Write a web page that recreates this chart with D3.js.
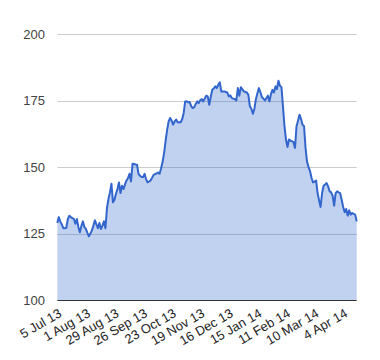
<!DOCTYPE html>
<html>
<head>
<meta charset="utf-8">
<script src="https://cdn.jsdelivr.net/npm/d3@7"></script>
<style>
html,body{margin:0;padding:0;background:#fff;}
svg{display:block;font-family:"Liberation Sans",Arial,sans-serif;}
</style>
</head>
<body>
<svg id="chart" width="380" height="360"></svg>
<script>
const tickLabels = ["5 Jul 13","1 Aug 13","29 Aug 13","26 Sep 13","23 Oct 13","19 Nov 13","16 Dec 13","15 Jan 14","11 Feb 14","10 Mar 14","4 Apr 14"];
const tickStep = 19;
const yTicks = [100,125,150,175,200];
const values = [
129,131.2,129.5,128.5,127,127,127.2,130.5,131.7,131.2,
130.8,130.5,128.7,130.5,127.5,125.5,127.8,129.6,127.5,126.8,
125.3,124,125,126.2,128,130,128.5,127,129,126.7,
128,129.6,127,134.6,138,140.5,143.75,136.75,137.75,140,
141.75,144.25,140.25,143,141.75,143.5,145,145.9,147.5,144.6,
151.25,151.2,151,150.9,147.5,146.75,146.3,146.25,147.5,145.5,
144.25,144.6,145,146,147.1,147.4,147.6,148,147.5,149.6,
152,155.4,160,164,167.25,168.5,167.5,166,167.2,167.9,
166.9,166.9,166.9,168,170.4,174.75,174.8,174.4,174.5,173,
172.25,172.6,173.8,174.75,174.1,175.2,175.6,174.75,175.8,176.9,
176.6,173.5,176.5,179.1,179.6,180.4,179.75,181,181.9,178.5,
178.5,178.5,178.3,178.1,176.6,177,176,175.8,175.6,175.1,
179.75,176.9,180.1,179.3,178.5,178.3,178.1,177.2,172.9,172,
170.1,171.9,175.6,177.8,179.75,178.2,176.4,175.8,175.1,176,
176.9,174.75,177.5,179.1,178.1,180.4,179.4,182.5,180.6,180.1,
172.9,165.4,160.4,157.6,160.4,160,159.75,159.4,157.25,165.4,
167.5,169.75,168.1,166,165.4,157.25,152,150,148.5,145.9,
144.25,144.5,145,140.25,137.5,135,140.25,143,143.5,144,
142.75,140.9,140.5,139.25,135.5,140.25,140.9,140.5,140.25,137.75,
135,133,134.25,131.75,133.75,132.1,132.75,132.4,132.1,129.6
];

const svg = d3.select("#chart");
const mLeft = 57.3, mRight = 356.7, mTop = 34.3, mBottom = 300;

const x = d3.scaleLinear().domain([0, values.length - 1]).range([mLeft, mRight]);
const y = d3.scaleLinear().domain([100, 200]).range([mBottom, mTop]);

// gridlines
svg.append("g").selectAll("line").data(yTicks.filter(d => d !== 100)).join("line")
  .attr("x1", mLeft).attr("x2", mRight)
  .attr("y1", d => Math.round(y(d)) + 0.5).attr("y2", d => Math.round(y(d)) + 0.5)
  .attr("stroke", "#cccccc").attr("stroke-width", 1);

// area
const area = d3.area().x((d, i) => x(i)).y0(y(100)).y1(d => y(d));
svg.append("path").datum(values).attr("d", area)
  .attr("fill", "#3366cc").attr("fill-opacity", 0.3);

// line
const line = d3.line().x((d, i) => x(i)).y(d => y(d));
svg.append("path").datum(values).attr("d", line)
  .attr("fill", "none").attr("stroke", "#3366cc").attr("stroke-width", 2)
  .attr("stroke-linejoin", "round");

// baseline
svg.append("line").attr("x1", mLeft).attr("x2", mRight)
  .attr("y1", Math.round(y(100)) + 0.5).attr("y2", Math.round(y(100)) + 0.5)
  .attr("stroke", "#333333").attr("stroke-width", 1);

// y axis labels
svg.append("g").selectAll("text").data(yTicks).join("text")
  .attr("x", 45).attr("y", d => y(d)).attr("dy", "0.35em")
  .attr("text-anchor", "end").attr("font-size", 13).attr("fill", "#444")
  .text(d => d);

// x axis labels
svg.append("g").selectAll("text").data(tickLabels).join("text")
  .attr("text-anchor", "end").attr("font-size", 13).attr("fill", "#222")
  .attr("transform", (d, i) => `translate(${x(i * tickStep) + 3},${mBottom + 12}) rotate(-30)`)
  .attr("dy", "0.35em")
  .text(d => d);
</script>
</body>
</html>
